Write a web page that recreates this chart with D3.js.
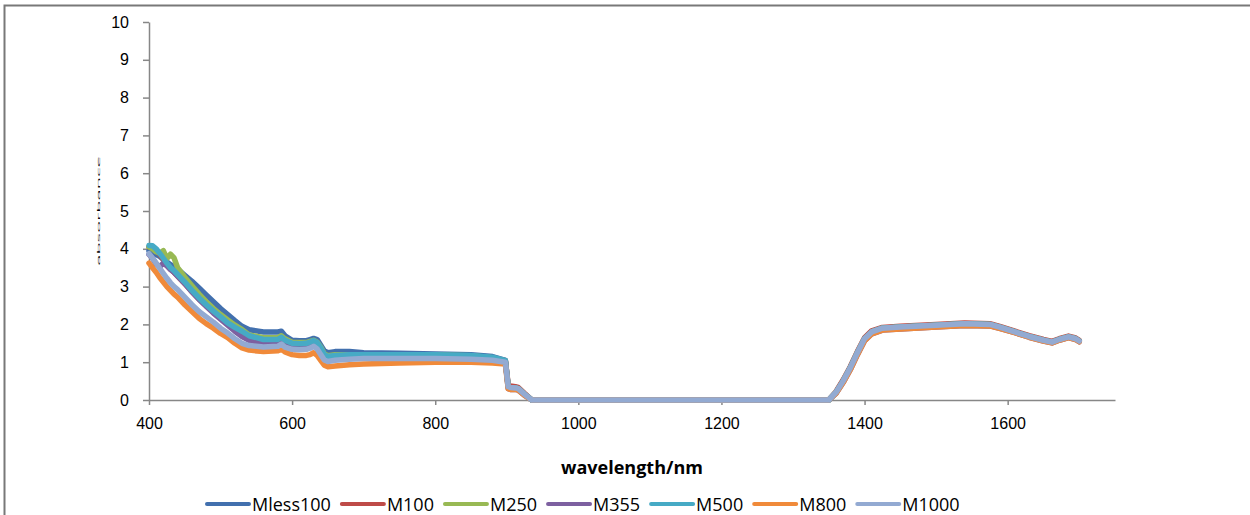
<!DOCTYPE html>
<html>
<head>
<meta charset="utf-8">
<title>Absorbance spectra</title>
<script src="https://d3js.org/d3.v7.min.js"></script>
<style>
    body { margin: 0; background: #fff; }
    svg { display: block; font-family: "Open Sans", sans-serif; }
    .axis path, .axis line { stroke: #878787; stroke-width: 1.5; }
    .axis text { font-size: 16px; fill: #000; }
</style>
</head>
<body>
<div id="chart"></div>
<script>
    // Series names and colours
    const seriesNames = ['Mless100', 'M100', 'M250', 'M355', 'M500', 'M800', 'M1000'];
    const seriesColors = ['#4270AE', '#BE4B48', '#98B954', '#7D60A0', '#46AAC5', '#F08A3A', '#93AAD2'];

    // Visible region, 400-898 nm (differs per series)
    const headWl = [400, 405, 410, 415, 420, 425, 430, 435, 440, 450, 460, 470, 480, 490, 500, 510, 520, 530, 540, 560,
                    580, 585, 590, 600, 610, 620, 625, 630, 635, 640, 645, 650, 660, 680, 700, 750, 800, 850, 880, 898];

    const headMless100 = [3.95, 3.9, 3.85, 3.8, 3.72, 3.65, 3.58, 3.52, 3.46, 3.3, 3.14, 2.96, 2.78, 2.6, 2.42, 2.26, 2.1, 1.95, 1.86, 1.8,
                          1.8, 1.82, 1.7, 1.58, 1.57, 1.57, 1.6, 1.63, 1.6, 1.45, 1.3, 1.25, 1.28, 1.28, 1.25, 1.24, 1.22, 1.2, 1.15, 1.05];
    const headM100 = [4.05, 4.02, 3.95, 3.85, 3.72, 3.6, 3.48, 3.38, 3.28, 3.08, 2.87, 2.67, 2.49, 2.32, 2.17, 2.01, 1.89, 1.78, 1.67, 1.57,
                      1.57, 1.62, 1.55, 1.47, 1.46, 1.47, 1.5, 1.54, 1.49, 1.35, 1.18, 1.13, 1.16, 1.18, 1.18, 1.18, 1.18, 1.16, 1.12, 1.04];
    const headM250 = [4.05, 4.0, 3.92, 3.88, 3.95, 3.74, 3.86, 3.76, 3.5, 3.25, 3.02, 2.8, 2.6, 2.42, 2.26, 2.12, 1.98, 1.86, 1.72, 1.65,
                      1.65, 1.7, 1.62, 1.53, 1.52, 1.52, 1.55, 1.58, 1.53, 1.4, 1.22, 1.17, 1.2, 1.2, 1.2, 1.2, 1.19, 1.17, 1.12, 1.03];
    const headM355 = [3.85, 3.75, 3.6, 3.52, 3.62, 3.55, 3.45, 3.38, 3.28, 3.08, 2.86, 2.66, 2.48, 2.3, 2.14, 1.98, 1.82, 1.68, 1.58, 1.5,
                      1.5, 1.56, 1.48, 1.42, 1.41, 1.42, 1.45, 1.5, 1.44, 1.3, 1.12, 1.07, 1.12, 1.14, 1.15, 1.15, 1.15, 1.13, 1.1, 1.02];
    const headM500 = [4.09, 4.08, 4.0, 3.88, 3.75, 3.62, 3.5, 3.42, 3.32, 3.12, 2.9, 2.7, 2.52, 2.35, 2.2, 2.04, 1.92, 1.82, 1.7, 1.6,
                      1.6, 1.66, 1.58, 1.5, 1.49, 1.5, 1.53, 1.57, 1.52, 1.38, 1.2, 1.15, 1.18, 1.2, 1.2, 1.2, 1.2, 1.18, 1.13, 1.05];
    const headM800 = [3.62, 3.5, 3.38, 3.24, 3.12, 3.0, 2.9, 2.8, 2.72, 2.52, 2.34, 2.16, 2.02, 1.9, 1.76, 1.65, 1.5, 1.38, 1.32, 1.28,
                      1.3, 1.35, 1.27, 1.2, 1.18, 1.18, 1.2, 1.25, 1.18, 1.05, 0.92, 0.88, 0.9, 0.93, 0.95, 0.98, 1.0, 1.0, 0.98, 0.95];
    const headM1000 = [3.87, 3.75, 3.62, 3.48, 3.35, 3.22, 3.1, 3.0, 2.92, 2.72, 2.52, 2.34, 2.2, 2.06, 1.9, 1.77, 1.62, 1.5, 1.44, 1.4,
                       1.42, 1.48, 1.4, 1.34, 1.33, 1.34, 1.37, 1.42, 1.35, 1.2, 1.06, 1.02, 1.05, 1.08, 1.1, 1.1, 1.1, 1.08, 1.05, 1.0];

    // 902-1700 nm, nearly identical for all series
    const tailWl = [902, 905, 912, 916, 925, 935, 1000, 1200, 1350, 1360, 1370, 1380, 1390, 1400, 1410, 1425, 1450, 1500, 1540,
                    1575, 1590, 1610, 1630, 1650, 1662, 1672, 1685, 1695, 1700];
    const tailMid = [0.35, 0.33, 0.32, 0.3, 0.15, 0, 0, 0, 0, 0.2, 0.5, 0.85, 1.25, 1.62, 1.8, 1.9, 1.93, 1.98, 2.02,
                     2.0, 1.92, 1.8, 1.68, 1.58, 1.53, 1.6, 1.67, 1.62, 1.56];
    const tailHigh = [0.4, 0.37, 0.35, 0.33, 0.17, 0, 0, 0, 0, 0.22, 0.53, 0.88, 1.28, 1.65, 1.83, 1.92, 1.95, 2.0, 2.04,
                      2.02, 1.94, 1.82, 1.7, 1.6, 1.55, 1.62, 1.69, 1.64, 1.58];
    const tailLow = [0.3, 0.28, 0.28, 0.26, 0.12, 0, 0, 0, 0, 0.17, 0.46, 0.8, 1.2, 1.57, 1.75, 1.85, 1.88, 1.93, 1.97,
                     1.96, 1.89, 1.78, 1.66, 1.56, 1.51, 1.58, 1.65, 1.6, 1.54];

    const heads = [headMless100, headM100, headM250, headM355, headM500, headM800, headM1000];
    const tails = [tailMid, tailHigh, tailMid, tailLow, tailMid, tailLow, tailMid];

    const xTicks = [400, 600, 800, 1000, 1200, 1400, 1600];
    const yTicks = [0, 1, 2, 3, 4, 5, 6, 7, 8, 9, 10];

    const wl = headWl.concat(tailWl);
    const series = seriesNames.map((name, i) => ({
        name: name,
        color: seriesColors[i],
        values: heads[i].concat(tails[i]).map((v, j) => ({ x: wl[j], y: v }))
    }));

    const W = 1250, H = 515;
    const svg = d3.select("#chart").append("svg")
        .attr("width", W)
        .attr("height", H);

    // chart border
    svg.append("rect")
        .attr("x", 4.5).attr("y", 5.5)
        .attr("width", W + 10).attr("height", H + 10)
        .attr("fill", "none")
        .attr("stroke", "#787878")
        .attr("stroke-width", 2);

    const xScale = d3.scaleLinear().domain([400, 1750]).range([149, 1115]);
    const yScale = d3.scaleLinear().domain([0, 10]).range([400, 22]);

    // axes
    svg.append("g")
        .attr("class", "axis")
        .attr("transform", "translate(0,400)")
        .call(d3.axisBottom(xScale).tickValues(xTicks).tickSize(5).tickSizeOuter(0).tickPadding(13).tickFormat(d3.format("d")));

    svg.append("g")
        .attr("class", "axis")
        .attr("transform", "translate(149,0)")
        .call(d3.axisLeft(yScale).tickValues(yTicks).tickSize(6).tickSizeOuter(0).tickPadding(14).tickFormat(d3.format("d")));

    // lines
    const line = d3.line()
        .x(d => xScale(d.x))
        .y(d => yScale(d.y));

    svg.append("g").selectAll("path")
        .data(series)
        .enter().append("path")
        .attr("d", d => line(d.values))
        .attr("fill", "none")
        .attr("stroke", d => d.color)
        .attr("stroke-width", 5.5)
        .attr("stroke-linejoin", "round")
        .attr("stroke-linecap", "round");

    // axis titles
    svg.append("text")
        .attr("x", 632)
        .attr("y", 474)
        .attr("text-anchor", "middle")
        .style("font-size", "18px")
        .style("font-weight", "bold")
        .text("wavelength/nm");

    // y title is squashed in the original, shows only as a dashed stroke
    svg.append("text")
        .attr("transform", "translate(99,211) rotate(-90) scale(1,0.18)")
        .attr("text-anchor", "middle")
        .attr("dominant-baseline", "middle")
        .style("font-size", "20px")
        .text("absorbance");

    // legend
    const legend = svg.append("g");
    let lx = 207;
    series.forEach(s => {
        legend.append("line")
            .attr("x1", lx).attr("x2", lx + 42)
            .attr("y1", 504).attr("y2", 504)
            .attr("stroke", s.color)
            .attr("stroke-width", 4)
            .attr("stroke-linecap", "round");
        const t = legend.append("text")
            .attr("x", lx + 45)
            .attr("y", 511)
            .style("font-size", "18px")
            .text(s.name);
        lx += 45 + t.node().getComputedTextLength() + 11;
    });
</script>
</body>
</html>
